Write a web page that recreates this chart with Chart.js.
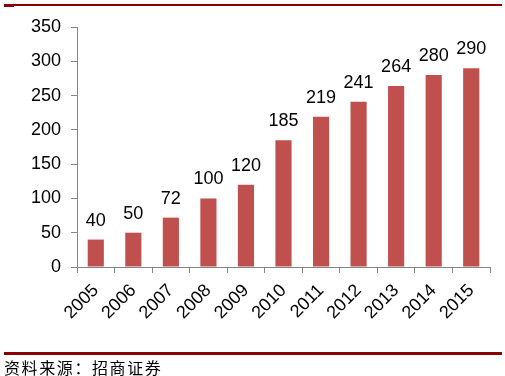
<!DOCTYPE html>
<html>
<head>
<meta charset="utf-8">
<script src="https://cdn.jsdelivr.net/npm/chart.js@4.4.1/dist/chart.umd.min.js"></script>
<style>
  body { margin: 0; background: #fff; }
  #wrap { position: relative; width: 505px; height: 376px; overflow: hidden; }
  #c { position: absolute; left: 0; top: 0; }
  .rule { position: absolute; left: 4px; width: 498px; background: #8b0000; }
  #src { position: absolute; left: 4px; top: 355px; font: 16px "Noto Sans CJK SC", sans-serif; color: #000; letter-spacing: 1.6px; }
</style>
</head>
<body>
<div id="wrap">
  <canvas id="c" width="505" height="376"></canvas>
  <div class="rule" style="top:4px;height:2px"></div>
  <div class="rule" style="top:4px;height:3px;width:10px"></div>
  <div class="rule" style="top:352px;height:3px"></div>
  <div id="src">资料来源：招商证券</div>
</div>
<script>
const years = ["2005", "2006", "2007", "2008", "2009", "2010", "2011", "2012", "2013", "2014", "2015"];
const valores = [40, 50, 72, 100, 120, 185, 219, 241, 264, 280, 290];
const yMax = 350;
const yStep = 50;

// etiquetas encima de cada barra
const etiquetas = {
  id: "etiquetas",
  afterDatasetsDraw(chart) {
    const ctx = chart.ctx;
    const meta = chart.getDatasetMeta(0);
    ctx.save();
    ctx.font = '18px "Liberation Sans", Arial, sans-serif';
    ctx.fillStyle = "#000";
    ctx.textAlign = "center";
    ctx.textBaseline = "bottom";
    meta.data.forEach((bar, i) => {
      ctx.fillText(valores[i], bar.x, bar.y - 10);
    });
    ctx.restore();
  },
};

new Chart(document.getElementById("c"), {
  type: "bar",
  data: {
    labels: years,
    datasets: [
      {
        data: valores,
        backgroundColor: "#c0504d",
        borderWidth: 0,
        barPercentage: 0.43,
        categoryPercentage: 1,
      },
    ],
  },
  options: {
    responsive: false,
    animation: false,
    layout: { padding: { top: 27, right: 15, left: 0, bottom: 0 } },
    plugins: { legend: { display: false }, tooltip: { enabled: false } },
    scales: {
      x: {
        grid: { offset: true, drawOnChartArea: false, tickLength: 6, color: "#868686" },
        border: { color: "#868686", width: 1 },
        ticks: {
          minRotation: 45,
          maxRotation: 45,
          color: "#000",
          padding: 7,
          font: { family: '"Liberation Sans", Arial, sans-serif', size: 18 },
        },
        afterFit: (s) => { s.height = 109; },
      },
      y: {
        min: 0,
        max: yMax,
        grid: { drawOnChartArea: false, tickLength: 6, color: "#868686" },
        border: { color: "#868686", width: 1 },
        ticks: {
          stepSize: yStep,
          color: "#000",
          padding: 10,
          font: { family: '"Liberation Sans", Arial, sans-serif', size: 18 },
        },
        afterFit: (s) => { s.width = 77; },
      },
    },
  },
  plugins: [etiquetas],
});
</script>
</body>
</html>
